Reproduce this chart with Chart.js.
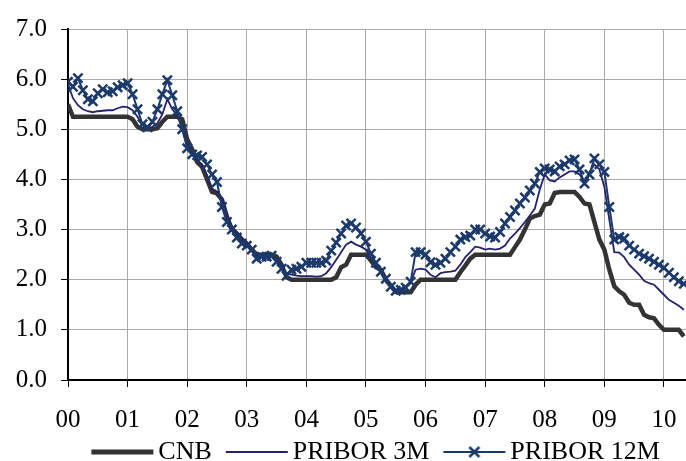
<!DOCTYPE html>
<html>
<head>
<meta charset="utf-8">
<script src="https://cdn.jsdelivr.net/npm/chart.js@4.4.0/dist/chart.umd.min.js"></script>
<style>
  html, body { margin: 0; padding: 0; background: #fff; overflow: hidden; }
  canvas { display: block; }
</style>
</head>
<body>
<canvas id="rates" width="686" height="461"></canvas>
<script>
// year tick labels (x axis) and value tick labels (y axis)
const yearTicks = ['00', '01', '02', '03', '04', '05', '06', '07', '08', '09', '10'];
const yTickLabels = ['0.0', '1.0', '2.0', '3.0', '4.0', '5.0', '6.0', '7.0'];

// monthly values, Jan 2000 .. May 2010
const cnb = [
  5.5, 5.25, 5.25, 5.25, 5.25, 5.25, 5.25, 5.25, 5.25, 5.25, 5.25, 5.25,
  5.25, 5.2, 5.05, 5.0, 5.0, 5.0, 5.02, 5.15, 5.25, 5.25, 5.25, 5.2,
  4.8, 4.6, 4.35, 4.25, 4.0, 3.75, 3.72, 3.6, 3.25, 3.0, 2.92, 2.8,
  2.72, 2.6, 2.5, 2.5, 2.5, 2.5, 2.46, 2.3, 2.05, 2.0, 2.0, 2.0,
  2.0, 2.0, 2.0, 2.0, 2.0, 2.0, 2.05, 2.25, 2.3, 2.5, 2.5, 2.5,
  2.5, 2.38, 2.25, 2.2, 2.0, 1.88, 1.76, 1.75, 1.75, 1.75, 1.9, 2.0,
  2.0, 2.0, 2.0, 2.0, 2.0, 2.0, 2.0, 2.15, 2.28, 2.42, 2.5, 2.5,
  2.5, 2.5, 2.5, 2.5, 2.5, 2.5, 2.65, 2.8, 3.0, 3.22, 3.27, 3.3,
  3.5, 3.52, 3.73, 3.75, 3.75, 3.75, 3.75, 3.65, 3.52, 3.5, 3.15, 2.8,
  2.6, 2.2, 1.87, 1.77, 1.7, 1.54, 1.5, 1.5, 1.3, 1.25, 1.23, 1.1,
  1.0, 1.0, 1.0, 1.0, 0.87
];
const pribor3m = [
  5.9, 5.62, 5.48, 5.4, 5.36, 5.34, 5.36, 5.37, 5.38, 5.38, 5.42, 5.45,
  5.44, 5.38, 5.25, 5.08, 5.03, 5.05, 5.12, 5.3, 5.6, 5.4, 5.28, 5.0,
  4.7, 4.5, 4.38, 4.3, 4.08, 3.82, 3.76, 3.62, 3.32, 3.06, 2.95, 2.84,
  2.74, 2.6, 2.5, 2.5, 2.48, 2.48, 2.4, 2.28, 2.12, 2.1, 2.08, 2.07,
  2.07, 2.07, 2.06, 2.07, 2.13, 2.25, 2.4, 2.55, 2.7, 2.76, 2.7, 2.66,
  2.6, 2.44, 2.26, 2.15, 2.0, 1.85, 1.78, 1.8, 1.85, 1.95, 2.2, 2.22,
  2.2, 2.1, 2.05, 2.13, 2.15, 2.16, 2.18, 2.3, 2.45, 2.55, 2.66, 2.64,
  2.6, 2.62, 2.6, 2.62, 2.68, 2.82, 2.92, 3.03, 3.15, 3.28, 3.42, 3.8,
  4.1, 3.98, 3.96, 4.04, 4.1, 4.16, 4.16, 4.1, 3.96, 4.15, 4.3, 4.2,
  3.85, 3.2, 2.55, 2.54, 2.45, 2.3, 2.2, 2.1, 1.98, 1.93, 1.9, 1.8,
  1.7, 1.6, 1.54, 1.48, 1.4
];
const pribor12m = [
  5.95, 5.85, 6.02, 5.78, 5.6, 5.56, 5.72, 5.8, 5.74, 5.76, 5.84, 5.88,
  5.92, 5.7, 5.4, 5.1, 5.04, 5.15, 5.4, 5.7, 5.98, 5.68, 5.36, 5.0,
  4.62, 4.5, 4.48, 4.45, 4.3, 4.1, 3.95, 3.45, 3.15, 3.0, 2.84, 2.72,
  2.68, 2.6, 2.42, 2.46, 2.46, 2.48, 2.36, 2.22, 2.08, 2.2, 2.22, 2.26,
  2.34, 2.34, 2.34, 2.34, 2.38, 2.58, 2.74, 2.92, 3.08, 3.12, 3.04, 2.92,
  2.76, 2.52, 2.34, 2.16, 2.02, 1.86, 1.78, 1.8, 1.84, 1.96, 2.55, 2.55,
  2.5, 2.35, 2.3, 2.34, 2.42, 2.55, 2.66, 2.8, 2.85, 2.88, 3.0, 3.0,
  2.92, 2.86, 2.84, 2.95, 3.12, 3.25, 3.38, 3.52, 3.64, 3.78, 3.92, 4.15,
  4.22, 4.2, 4.16, 4.26, 4.3, 4.38, 4.4, 4.2, 3.92, 4.1, 4.42, 4.3,
  4.15, 3.45, 2.8, 2.85, 2.82, 2.68, 2.6, 2.52, 2.47, 2.42, 2.36, 2.3,
  2.24, 2.14, 2.05, 1.97, 1.92
];

// x position of each month in years since Jan 2000
const monthPos = cnb.map((v, i) => i / 12);

const serif = "'Liberation Serif', 'Times New Roman', serif";

// legend icons drawn on small canvases (line sits right of centre so the text gap stays small)
function legendIcon(color, width, cross) {
  const c = document.createElement('canvas');
  c.width = 90;
  c.height = 20;
  const g = c.getContext('2d');
  g.strokeStyle = color;
  g.lineWidth = width;
  g.beginPath();
  g.moveTo(21, 10);
  g.lineTo(83, 10);
  g.stroke();
  if (cross) {
    g.lineWidth = 2.5;
    g.beginPath();
    g.moveTo(47, 5); g.lineTo(57, 15);
    g.moveTo(57, 5); g.lineTo(47, 15);
    g.stroke();
  }
  return c;
}

const colCnb = '#333333';
const col3m = '#27226e';
const col12m = '#1b3a6b';

const icons = [
  legendIcon(colCnb, 5, false),
  legendIcon(col3m, 2, false),
  legendIcon(col12m, 2, true)
];

// plot runs right up to the canvas edge, as in the original
const fullWidth = {
  id: 'fullWidth',
  afterLayout: function (chart) {
    const x = chart.scales.x;
    const right = chart.width;
    chart.chartArea.right = right;
    chart.chartArea.width = right - chart.chartArea.left;
    x.right = right;
    x.width = right - x.left;
    x.configure();
  }
};

const ctx = document.getElementById('rates').getContext('2d');

new Chart(ctx, {
  type: 'line',
  plugins: [fullWidth],
  data: {
    labels: monthPos,
    datasets: [
      {
        label: 'CNB',
        data: cnb,
        borderColor: colCnb,
        borderWidth: 4.5,
        pointRadius: 0,
        tension: 0,
        order: 3
      },
      {
        label: 'PRIBOR 3M',
        data: pribor3m,
        borderColor: col3m,
        borderWidth: 1.8,
        pointRadius: 0,
        tension: 0,
        order: 2
      },
      {
        label: 'PRIBOR 12M',
        data: pribor12m,
        borderColor: col12m,
        borderWidth: 2,
        pointStyle: 'crossRot',
        pointRadius: 6.5,
        pointBorderWidth: 2.5,
        pointBorderColor: col12m,
        tension: 0,
        order: 1
      }
    ]
  },
  options: {
    responsive: false,
    animation: false,
    layout: {
      autoPadding: false,
      padding: { top: 29, right: 0, bottom: -14, left: 0 }
    },
    scales: {
      x: {
        type: 'linear',
        bounds: 'data',
        min: 0,
        max: 10.37,
        afterFit: function (scale) { scale.height = 51; },
        ticks: {
          stepSize: 1,
          includeBounds: false,
          autoSkip: false,
          maxRotation: 0,
          padding: 18,
          color: '#000',
          font: { family: serif, size: 25 },
          callback: function (value) { return yearTicks[value] || ''; }
        },
        grid: {
          color: '#ababab',
          lineWidth: 1,
          tickColor: '#000',
          tickLength: 7
        },
        border: { color: '#000', width: 2 }
      },
      y: {
        min: 0,
        max: 7,
        afterFit: function (scale) { scale.width = 68; },
        ticks: {
          stepSize: 1,
          padding: 14,
          color: '#000',
          font: { family: serif, size: 25 },
          callback: function (value) { return yTickLabels[value]; }
        },
        grid: {
          color: '#ababab',
          lineWidth: 1,
          tickColor: '#000',
          tickLength: 7
        },
        border: { color: '#000', width: 2 }
      }
    },
    plugins: {
      tooltip: { enabled: false },
      legend: {
        position: 'bottom',
        fullSize: false,
        labels: {
          usePointStyle: true,
          pointStyleWidth: 60,
          boxHeight: 20,
          padding: 8,
          color: '#000',
          font: { family: serif, size: 26 },
          generateLabels: function (chart) {
            return chart.data.datasets.map(function (ds, i) {
              return {
                text: ds.label,
                pointStyle: icons[i],
                fillStyle: ds.borderColor,
                strokeStyle: ds.borderColor,
                lineWidth: 0,
                hidden: false,
                datasetIndex: i
              };
            });
          }
        }
      }
    }
  }
});
</script>
</body>
</html>
